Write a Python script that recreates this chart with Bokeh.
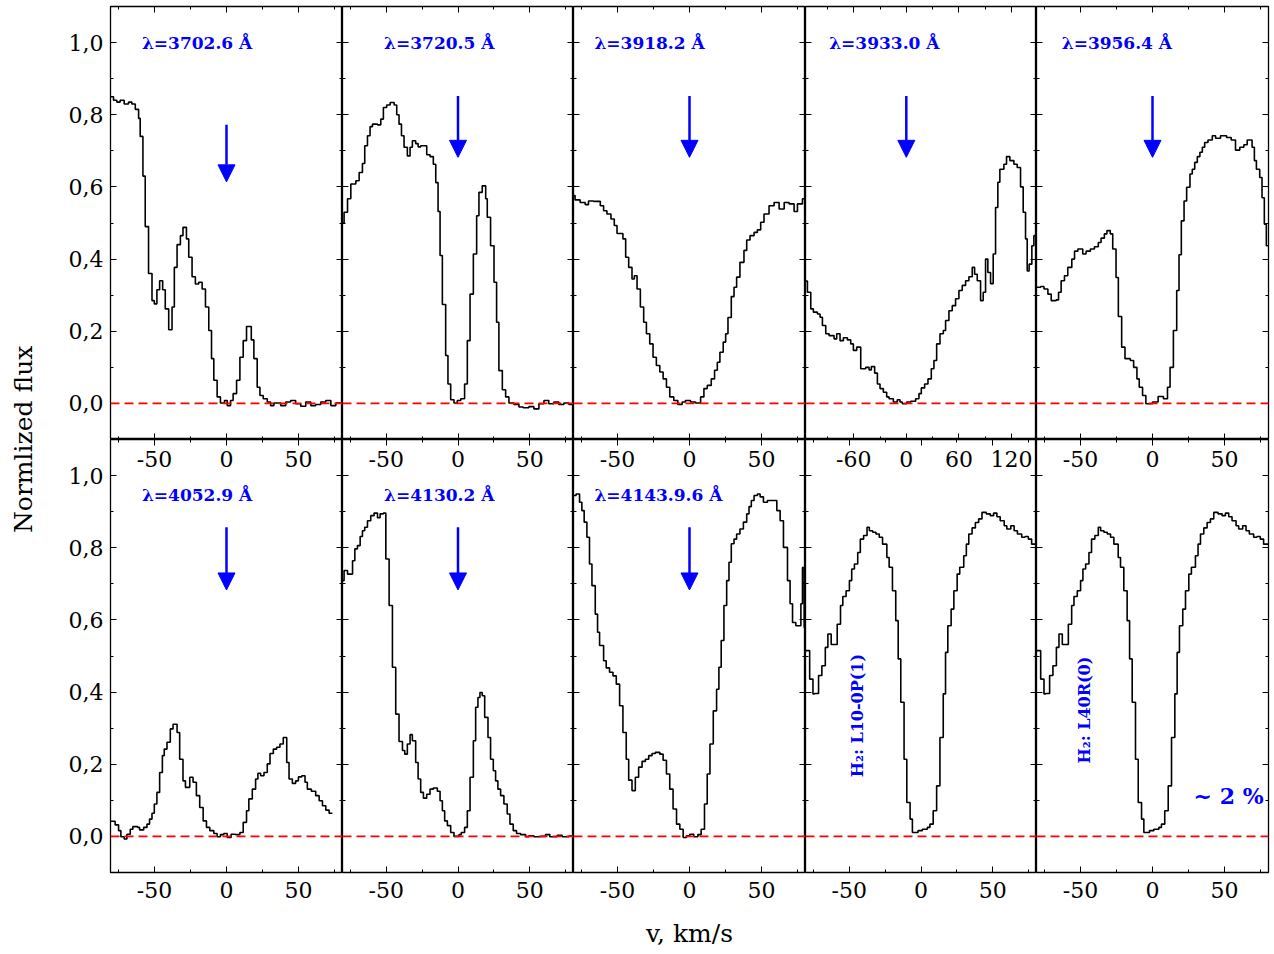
import math
from bokeh.plotting import figure
from bokeh.models import (Range1d, LinearAxis, SingleIntervalTicker, CustomJSTickFormatter,
                          Span, Arrow, NormalHead, Label)
from bokeh.layouts import row, column
from bokeh.embed import file_html
from bokeh.resources import INLINE

# ---------------- data (velocity km/s, normalized flux) ----------------
v_3702 = [-80.7, -78.4, -76.1, -73.8, -71.0, -68.0, -65.7, -63.3, -61.0, -59.9, -58.0, -56.4, -54.1, -51.7,
          -50.1, -48.3, -46.4, -44.3, -42.5, -40.1, -37.8, -36.2, -34.3, -32.0, -30.2, -27.8, -26.2, -23.9,
          -21.6, -19.3, -16.9, -14.6, -12.3, -10.4, -8.8, -6.5, -4.2, -1.4, 0.5, 2.8, 4.6, 7.0, 9.3, 11.6,
          13.9, 17.2, 19.0, 21.3, 23.2, 25.5, 28.3, 30.6, 32.9, 37.6, 41.1, 44.5, 48.0, 51.5, 55.0, 58.5,
          61.9, 65.4, 68.9, 72.4, 75.9, 80.7]
f_3702 = [0.85, 0.84, 0.835, 0.84, 0.83, 0.835, 0.83, 0.815, 0.79, 0.74, 0.63, 0.49, 0.36, 0.285, 0.276,
          0.315, 0.34, 0.315, 0.262, 0.204, 0.267, 0.377, 0.44, 0.465, 0.488, 0.456, 0.405, 0.351, 0.331,
          0.336, 0.317, 0.267, 0.202, 0.124, 0.064, 0.018, 0.001, 0.008, -0.006, 0.008, 0.027, 0.064, 0.128,
          0.174, 0.213, 0.176, 0.124, 0.045, 0.022, 0.013, 0.004, -0.006, 0.001, -0.006, 0.004, 0.008,
          -0.001, -0.008, 0.004, -0.006, -0.003, 0.004, 0.008, -0.006, 0.001, 0.001]

v_3720 = [-80.7, -79.4, -77.0, -74.7, -71.2, -68.9, -66.6, -65.0, -63.1, -61.3, -59.6, -56.1, -53.8, -52.0,
          -49.7, -47.3, -44.5, -42.7, -41.1, -39.4, -37.6, -35.3, -33.4, -31.8, -29.5, -27.8, -26.0, -21.8,
          -19.5, -17.2, -15.5, -13.9, -12.5, -10.9, -8.6, -7.0, -5.1, -2.8, -0.5, 1.9, 4.6, 6.5, 8.4, 10.7,
          13.0, 14.6, 16.9, 19.3, 20.4, 22.7, 25.1, 26.9, 28.5, 30.9, 33.2, 35.5, 39.0, 42.5, 45.5, 49.4,
          52.9, 56.4, 59.9, 63.3, 66.8, 70.3, 73.8, 77.3, 80.7]
f_3720 = [0.50, 0.53, 0.567, 0.608, 0.617, 0.64, 0.665, 0.714, 0.742, 0.767, 0.774, 0.772, 0.788, 0.82,
          0.827, 0.834, 0.827, 0.80, 0.774, 0.742, 0.71, 0.686, 0.71, 0.728, 0.72, 0.711, 0.714, 0.689,
          0.684, 0.663, 0.612, 0.532, 0.41, 0.274, 0.133, 0.054, 0.01, 0.001, 0.008, 0.013, 0.054, 0.174,
          0.303, 0.414, 0.52, 0.585, 0.603, 0.567, 0.516, 0.437, 0.336, 0.225, 0.091, 0.038, 0.018, 0.001,
          -0.003, -0.01, -0.012, -0.009, -0.015, -0.001, 0.008, -0.001, 0.004, -0.003, 0.001, -0.003, -0.003]

v_3918 = [-80.7, -79.4, -75.9, -72.4, -70.1, -66.6, -61.9, -59.6, -57.3, -54.5, -52.2, -50.3, -46.2, -44.3,
          -42.2, -39.9, -38.3, -36.4, -34.1, -31.8, -29.9, -27.6, -25.3, -23.0, -20.6, -18.3, -16.0, -13.7,
          -10.9, -8.1, -5.1, -2.8, 0.7, 4.2, 7.7, 10.0, 12.3, 15.1, 17.4, 19.3, 21.1, 23.4, 25.1, 26.7, 29.0,
          30.9, 32.7, 35.0, 37.8, 39.7, 42.0, 44.8, 47.1, 49.4, 51.7, 55.2, 58.7, 62.2, 65.7, 69.1, 72.6,
          74.9, 78.4, 80.7]
f_3918 = [0.576, 0.564, 0.557, 0.551, 0.561, 0.56, 0.548, 0.534, 0.525, 0.511, 0.493, 0.471, 0.456, 0.405,
          0.377, 0.345, 0.354, 0.317, 0.267, 0.225, 0.193, 0.165, 0.128, 0.105, 0.087, 0.068, 0.045, 0.018,
          0.008, -0.003, 0.004, 0.008, 0.004, 0.001, 0.018, 0.041, 0.05, 0.068, 0.092, 0.114, 0.142, 0.17,
          0.193, 0.238, 0.296, 0.322, 0.35, 0.391, 0.424, 0.453, 0.465, 0.474, 0.481, 0.502, 0.525, 0.548,
          0.557, 0.539, 0.557, 0.553, 0.532, 0.553, 0.567, 0.567]

v_3933 = [-115.5, -112.8, -109.0, -106.0, -101.4, -98.4, -95.7, -91.9, -88.1, -82.4, -79.4, -75.6, -71.8,
          -67.2, -63.4, -60.4, -56.6, -52.0, -46.3, -42.5, -39.9, -36.1, -33.0, -30.0, -26.2, -22.4, -19.7,
          -14.8, -10.3, -7.2, -4.6, 0.4, 4.9, 10.6, 14.4, 17.1, 20.9, 24.7, 28.5, 31.5, 34.6, 38.4, 42.2,
          44.8, 48.6, 52.4, 56.2, 60.0, 63.8, 67.6, 71.4, 75.2, 77.9, 80.9, 84.7, 87.7, 90.4, 93.0, 96.1,
          99.1, 101.8, 104.4, 106.7, 111.3, 114.3, 118.1, 122.7, 126.5, 130.3, 133.3, 136.0, 137.9, 140.1,
          143.2, 145.5, 149.0]
f_3933 = [0.339, 0.308, 0.262, 0.253, 0.248, 0.239, 0.216, 0.193, 0.188, 0.179, 0.193, 0.174, 0.182, 0.176,
          0.165, 0.147, 0.156, 0.096, 0.1, 0.093, 0.102, 0.084, 0.054, 0.041, 0.031, 0.018, 0.013, 0.004,
          0.01, 0.004, -0.001, 0.004, 0.006, 0.013, 0.027, 0.043, 0.054, 0.068, 0.096, 0.119, 0.165, 0.193,
          0.202, 0.23, 0.257, 0.271, 0.29, 0.313, 0.327, 0.34, 0.351, 0.377, 0.358, 0.34, 0.285, 0.308, 0.4,
          0.363, 0.332, 0.414, 0.543, 0.613, 0.649, 0.663, 0.684, 0.673, 0.663, 0.654, 0.6, 0.53, 0.456,
          0.367, 0.386, 0.437, 0.465, 0.465]

v_3956 = [-80.7, -77.6, -75.3, -72.6, -70.3, -66.8, -65.2, -63.4, -61.1, -58.8, -56.0, -54.1, -51.8, -48.4,
          -46.1, -43.1, -40.3, -37.6, -35.7, -33.4, -31.6, -29.3, -27.6, -25.3, -23.7, -21.4, -19.1, -15.4,
          -13.1, -10.8, -9.2, -6.9, -4.6, 0.0, 3.9, 7.6, 10.4, 12.2, 14.5, 16.8, 18.4, 20.0, 21.9, 23.7,
          26.0, 27.6, 29.3, 31.1, 32.9, 34.6, 36.2, 38.5, 41.5, 43.8, 47.2, 51.4, 54.6, 57.6, 60.6, 63.4,
          65.7, 69.1, 70.7, 72.1, 74.4, 76.0, 77.6, 79.0, 80.7]
f_3956 = [0.322, 0.324, 0.317, 0.303, 0.285, 0.287, 0.308, 0.34, 0.354, 0.377, 0.4, 0.422, 0.428, 0.414,
          0.422, 0.428, 0.434, 0.446, 0.458, 0.47, 0.479, 0.47, 0.428, 0.349, 0.241, 0.156, 0.124, 0.119,
          0.1, 0.068, 0.045, 0.022, -0.001, 0.004, 0.019, 0.013, 0.045, 0.1, 0.202, 0.313, 0.412, 0.506,
          0.561, 0.599, 0.636, 0.649, 0.668, 0.684, 0.696, 0.71, 0.723, 0.73, 0.742, 0.735, 0.742, 0.737,
          0.73, 0.702, 0.71, 0.717, 0.73, 0.71, 0.673, 0.649, 0.626, 0.57, 0.497, 0.437, 0.437]

v_4052 = [-80.7, -77.3, -74.9, -73.3, -71.0, -69.1, -66.8, -65.0, -61.7, -60.3, -57.5, -55.2, -53.4, -51.7,
          -50.1, -48.3, -46.4, -44.5, -43.2, -41.3, -39.0, -37.1, -34.3, -32.5, -30.2, -28.5, -25.5, -23.2,
          -20.9, -18.6, -16.2, -13.9, -11.6, -8.8, -6.5, -4.2, -1.9, 0.5, 3.2, 6.3, 9.3, 11.6, 13.9, 15.5,
          17.9, 20.2, 21.8, 23.7, 26.0, 28.3, 30.2, 32.5, 34.8, 37.1, 39.4, 41.8, 43.4, 45.7, 48.0, 49.9,
          52.2, 54.5, 56.1, 58.9, 61.9, 64.3, 66.6, 68.9, 71.2, 73.5]
f_4052 = [0.042, 0.032, 0.016, -0.001, -0.007, 0.006, 0.02, 0.027, 0.025, 0.018, 0.025, 0.034, 0.048,
          0.064, 0.09, 0.122, 0.177, 0.224, 0.242, 0.261, 0.298, 0.311, 0.288, 0.214, 0.154, 0.136, 0.164,
          0.15, 0.113, 0.08, 0.043, 0.025, 0.016, 0.008, -0.001, 0.005, 0.008, -0.003, 0.006, 0.005, 0.011,
          0.039, 0.071, 0.104, 0.131, 0.159, 0.175, 0.168, 0.177, 0.201, 0.23, 0.242, 0.247, 0.256, 0.274,
          0.205, 0.159, 0.147, 0.154, 0.165, 0.168, 0.15, 0.131, 0.125, 0.113, 0.099, 0.085, 0.073, 0.064,
          0.064]

v_4130 = [-80.7, -79.4, -77.0, -73.5, -71.9, -70.1, -68.2, -66.6, -65.0, -63.1, -60.8, -58.5, -56.1, -54.3,
          -52.0, -50.3, -48.0, -45.7, -43.4, -41.1, -38.7, -37.1, -35.3, -33.4, -31.8, -29.5, -27.8, -26.0,
          -24.1, -21.8, -19.5, -17.2, -14.4, -12.5, -10.9, -9.3, -7.4, -5.1, -2.8, 0.7, 2.3, 4.6, 6.5, 8.4,
          10.7, 12.3, 13.9, 15.3, 16.9, 18.6, 20.9, 22.7, 24.6, 26.2, 27.8, 29.7, 32.0, 34.3, 36.2, 38.5,
          40.8, 43.6, 47.1, 49.4, 52.9, 57.5, 61.0, 64.0, 69.1, 72.6, 77.3, 80.7]
f_4130 = [0.709, 0.737, 0.727, 0.764, 0.797, 0.806, 0.831, 0.847, 0.857, 0.875, 0.889, 0.896, 0.883, 0.894,
          0.896, 0.769, 0.64, 0.469, 0.339, 0.263, 0.238, 0.228, 0.256, 0.282, 0.265, 0.205, 0.159, 0.122,
          0.106, 0.117, 0.131, 0.134, 0.125, 0.099, 0.071, 0.043, 0.03, 0.011, 0.0, 0.005, 0.011, 0.025,
          0.071, 0.164, 0.265, 0.358, 0.385, 0.399, 0.39, 0.33, 0.274, 0.214, 0.182, 0.154, 0.131, 0.113,
          0.09, 0.062, 0.034, 0.016, 0.008, 0.005, -0.001, 0.002, -0.001, 0.0, 0.005, -0.001, 0.003, -0.001,
          0.001, 0.001]

v_4143 = [-80.7, -78.7, -76.3, -74.7, -73.1, -71.2, -69.4, -67.7, -65.4, -63.8, -62.4, -59.6, -57.8, -55.5,
          -53.1, -50.8, -48.5, -46.2, -43.9, -42.2, -39.9, -37.6, -35.3, -32.9, -30.6, -28.3, -26.0, -23.7,
          -20.6, -18.3, -16.0, -13.7, -11.4, -9.0, -6.7, -4.4, -2.1, 0.2, 3.0, 5.8, 8.1, 10.4, 12.3, 14.2,
          16.5, 18.8, 20.4, 22.0, 23.9, 25.8, 27.4, 29.0, 30.9, 32.7, 35.0, 37.4, 39.7, 41.3, 42.9, 44.8,
          47.1, 49.0, 51.3, 54.1, 57.5, 60.6, 62.9, 65.2, 68.0, 69.8, 71.5, 73.8, 77.3, 78.4, 79.6, 80.7]
f_4143 = [0.945, 0.949, 0.926, 0.903, 0.871, 0.829, 0.755, 0.695, 0.616, 0.566, 0.529, 0.487, 0.467, 0.455,
          0.445, 0.422, 0.362, 0.288, 0.214, 0.156, 0.127, 0.164, 0.192, 0.208, 0.214, 0.224, 0.23, 0.233,
          0.228, 0.211, 0.173, 0.131, 0.076, 0.034, 0.02, -0.003, 0.002, 0.006, -0.001, 0.005, 0.02, 0.09,
          0.173, 0.256, 0.348, 0.408, 0.469, 0.543, 0.64, 0.709, 0.76, 0.811, 0.824, 0.838, 0.852, 0.871,
          0.894, 0.914, 0.931, 0.945, 0.949, 0.941, 0.926, 0.931, 0.931, 0.903, 0.875, 0.801, 0.709, 0.645,
          0.593, 0.584, 0.645, 0.745, 0.579, 0.579]

v_h2 = [-80.7, -77.6, -75.3, -74.1, -71.4, -69.1, -66.7, -64.9, -62.6, -60.3, -58.4, -56.1, -54.5, -52.2,
        -49.9, -48.3, -46.4, -44.1, -42.3, -40.0, -37.6, -36.0, -33.7, -31.4, -29.1, -26.8, -23.8, -22.2,
        -19.9, -17.6, -15.9, -14.1, -11.8, -9.9, -7.6, -6.0, -2.1, 0.9, 4.4, 6.2, 8.5, 10.9, 13.2, 15.5,
        17.1, 18.7, 21.0, 22.9, 25.2, 27.0, 29.8, 31.6, 33.3, 35.6, 37.9, 40.2, 42.5, 45.5, 48.3, 50.6,
        52.9, 55.2, 58.0, 59.8, 62.6, 64.9, 67.2, 70.2, 72.5, 74.8, 77.1, 80.7]
f_h2 = [0.515, 0.436, 0.395, 0.396, 0.446, 0.473, 0.524, 0.561, 0.532, 0.532, 0.588, 0.64, 0.665, 0.681,
        0.709, 0.741, 0.755, 0.787, 0.824, 0.834, 0.857, 0.847, 0.843, 0.838, 0.829, 0.81, 0.773, 0.746,
        0.681, 0.598, 0.492, 0.372, 0.214, 0.094, 0.048, 0.011, 0.016, 0.02, 0.025, 0.034, 0.071, 0.14,
        0.274, 0.395, 0.51, 0.584, 0.63, 0.681, 0.727, 0.746, 0.778, 0.81, 0.838, 0.855, 0.87, 0.88, 0.898,
        0.894, 0.889, 0.896, 0.886, 0.875, 0.861, 0.852, 0.861, 0.847, 0.838, 0.829, 0.831, 0.824, 0.81,
        0.81]

top_lines = ["λ=3702.6 Å", "λ=3720.5 Å", "λ=3918.2 Å", "λ=3933.0 Å", "λ=3956.4 Å"]
bottom_lines = ["λ=4052.9 Å", "λ=4130.2 Å", "λ=4143.9.6 Å"]
h2_lines = ["H₂: L10-0P(1)", "H₂: L40R(0)"]
y_ticks_interval = 0.2
x_ticks_interval = 50
x_ticks_interval_wide = 60

# ---------------- styling ----------------
FONT = "DejaVu Serif"
TICK_SIZE = "22px"
BLUE = "#0000FF"
YR = (-0.1, 1.1)
XR = (-80.5, 80.5)
XR_WIDE = (-115.0, 148.5)

TITLE_W = 50
COL_W = [292, 231, 232, 231, 236]
COL_MB_LEFT = [60, 0, 0, 0, 0]
COL_MB_RIGHT = [0, 0, 0, 0, 4]
TOP_MB = 6
FRAME_H = 433
BOT_MB = 82


def yfmt():
    return CustomJSTickFormatter(code="return tick.toFixed(1).replace('.', ',');")


def xfmt():
    return CustomJSTickFormatter(code="return tick.toFixed(0);")


def make_axis(interval, fmt, loc, labels, standoff=5, ticks=True, range_name=None, title=None):
    kw = {}
    if range_name is not None:
        kw["x_range_name"] = range_name
    if loc is not None:
        kw["fixed_location"] = loc
    ax = LinearAxis(ticker=SingleIntervalTicker(interval=interval, num_minor_ticks=2),
                    formatter=fmt, axis_line_color=None,
                    major_tick_in=6 if ticks else 0, major_tick_out=0,
                    minor_tick_in=3 if ticks else 0, minor_tick_out=0,
                    major_tick_line_color="black" if ticks else None,
                    minor_tick_line_color="black" if ticks else None,
                    major_label_standoff=standoff,
                    major_label_text_font=FONT,
                    major_label_text_font_size=TICK_SIZE,
                    major_label_text_color="black" if labels else None,
                    **kw)
    if title is not None:
        ax.axis_label = title
        ax.axis_label_text_font = FONT
        ax.axis_label_text_font_size = "25px"
        ax.axis_label_text_font_style = "normal"
        ax.axis_label_text_color = "black"
        ax.axis_label_standoff = 18
    return ax


def make_panel(col, v, f, xr, xint, top, top_range=None, top_int=None, x_title=None):
    height = TOP_MB + FRAME_H if top else FRAME_H + BOT_MB
    p = figure(width=COL_W[col], height=height, x_range=Range1d(*xr), y_range=Range1d(*YR),
               x_axis_type=None, y_axis_type=None, toolbar_location=None, output_backend="svg",
               title=None, min_border_left=COL_MB_LEFT[col], min_border_right=COL_MB_RIGHT[col],
               min_border_top=TOP_MB if top else 0, min_border_bottom=0 if top else BOT_MB,
               outline_line_color="black", outline_line_width=1.3,
               background_fill_color="white", border_fill_color="white")
    # left axis: labelled only in the first column (drawn in the border area)
    if col == 0:
        p.add_layout(make_axis(y_ticks_interval, yfmt(), None, True, standoff=7), "left")
    else:
        p.add_layout(make_axis(y_ticks_interval, yfmt(), xr[0], False), "left")
    p.add_layout(make_axis(y_ticks_interval, yfmt(), xr[1], False), "right")
    if top:
        p.add_layout(make_axis(xint, xfmt(), YR[0], False), "below")
    else:
        p.add_layout(make_axis(xint, xfmt(), None, True, standoff=9, title=x_title), "below")
    p.add_layout(make_axis(xint, xfmt(), YR[1], False), "above")
    if top_range is not None:
        p.extra_x_ranges = {"upper": Range1d(*top_range)}
        p.add_layout(make_axis(top_int, xfmt(), YR[1], True, standoff=-27, ticks=False,
                               range_name="upper"), "above")
    p.add_layout(Span(location=0, dimension="width", line_color="red", line_dash="9 5",
                      line_width=1.8))
    p.step(v, f, mode="after", line_color="black", line_width=1.6)
    return p


def add_arrow(p, y0, y1):
    p.add_layout(Arrow(x_start=0, y_start=y0, x_end=0, y_end=y1, line_color=BLUE, line_width=2.5,
                       end=NormalHead(size=17, fill_color=BLUE, line_color=BLUE)))


def add_text(p, x, y, text, size="17px", angle=0.0, align="left"):
    p.add_layout(Label(x=x, y=y, text=text, text_font=FONT, text_font_style="bold",
                       text_font_size=size, text_color=BLUE, text_baseline="middle",
                       text_align=align, angle=angle))


# ---------------- top row ----------------
t1 = make_panel(0, v_3702, f_3702, XR, x_ticks_interval, True)
t2 = make_panel(1, v_3720, f_3720, XR, x_ticks_interval, True)
t3 = make_panel(2, v_3918, f_3918, XR, x_ticks_interval, True)
t4 = make_panel(3, v_3933, f_3933, XR_WIDE, x_ticks_interval_wide, True)
t5 = make_panel(4, v_3956, f_3956, XR, x_ticks_interval, True)

add_text(t1, -58.7, 1.0, top_lines[0])
add_text(t2, -51.5, 1.0, top_lines[1])
add_text(t3, -66.0, 1.0, top_lines[2])
add_text(t4, -88.0, 1.0, top_lines[3])
add_text(t5, -63.0, 1.0, top_lines[4])
add_arrow(t1, 0.772, 0.614)
for p in (t2, t3, t4, t5):
    add_arrow(p, 0.852, 0.682)

# ---------------- bottom row ----------------
b1 = make_panel(0, v_4052, f_4052, XR, x_ticks_interval, False, XR, x_ticks_interval)
b2 = make_panel(1, v_4130, f_4130, XR, x_ticks_interval, False, XR, x_ticks_interval)
b3 = make_panel(2, v_4143, f_4143, XR, x_ticks_interval, False, XR, x_ticks_interval,
                x_title="v, km/s")
b4 = make_panel(3, v_h2, f_h2, XR, x_ticks_interval, False, XR_WIDE, x_ticks_interval_wide)
b5 = make_panel(4, v_h2, f_h2, XR, x_ticks_interval, False, XR, x_ticks_interval)

add_text(b1, -58.7, 0.945, bottom_lines[0])
add_text(b2, -51.5, 0.945, bottom_lines[1])
add_text(b3, -66.0, 0.945, bottom_lines[2])
for p in (b1, b2, b3):
    add_arrow(p, 0.857, 0.683)
add_text(b4, -44.0, 0.335, h2_lines[0], size="16px", angle=math.pi / 2, align="center")
add_text(b5, -47.5, 0.35, h2_lines[1], size="16px", angle=math.pi / 2, align="center")
add_text(b5, 28.5, 0.113, "~ 2 %", size="22px")

# ---------------- y title ----------------
yt = figure(width=TITLE_W, height=TOP_MB + 2 * FRAME_H + BOT_MB, x_range=Range1d(0, 1),
            y_range=Range1d(0, 1), x_axis_type=None, y_axis_type=None, toolbar_location=None,
            output_backend="svg", title=None, min_border=0, outline_line_color=None)
yt.add_layout(Label(x=0.45, y=0.54, text="Normlized flux", text_font=FONT, text_font_size="25px",
                    text_color="black", angle=math.pi / 2, text_align="center", text_baseline="middle"))

layout = row(yt, column(row(t1, t2, t3, t4, t5), row(b1, b2, b3, b4, b5)))

with open("out.html", "w") as fh:
    fh.write(file_html(layout, INLINE, "spectra"))
